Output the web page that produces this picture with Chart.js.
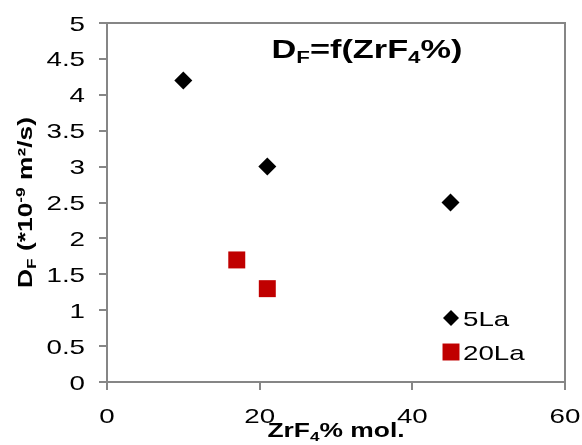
<!DOCTYPE html>
<html>
<head>
<meta charset="utf-8">
<script src="https://cdn.jsdelivr.net/npm/chart.js@4.4.1/dist/chart.umd.min.js"></script>
<style>
  body { margin: 0; background: #fff; }
  canvas { display: block; }
</style>
</head>
<body>
<canvas id="df-chart" width="582" height="445"></canvas>
<script>
// data
var seriesNames = ['5La', '20La'];
var x5La = [10, 21, 45];
var y5La = [4.2, 3.0, 2.5];
var x20La = [17, 21];
var y20La = [1.7, 1.3];
var xTicks = [0, 20, 40, 60];
var xTickLabels = ['0', '20', '40', '60'];
var yTicks = [0, 0.5, 1, 1.5, 2, 2.5, 3, 3.5, 4, 4.5, 5];
var yTickLabels = ['0', '0.5', '1', '1.5', '2', '2.5', '3', '3.5', '4', '4.5', '5'];

var AXIS_GREY = '#868686';
var STRETCH = 1.32; // text in the original is drawn wide

function toPoints(xs, ys) {
    return xs.map(function (x, i) { return { x: x, y: ys[i] }; });
}

// draws a run of text pieces, some may be sub / superscript
function drawRich(ctx, segs, x, y, o) {
    var font = function (s) {
        return (o.bold ? 'bold ' : '') + s + 'px "Liberation Sans", Arial, sans-serif';
    };
    ctx.save();
    ctx.translate(x, y);
    if (o.rot) ctx.rotate(o.rot);
    ctx.scale(STRETCH, 1);
    ctx.textAlign = 'left';
    ctx.textBaseline = 'alphabetic';
    ctx.fillStyle = '#000';
    var w = 0;
    segs.forEach(function (sg) {
        ctx.font = font(sg.sub || sg.sup ? o.size * 0.65 : o.size);
        sg.w = ctx.measureText(sg.t).width;
        w += sg.w;
    });
    var cx = o.align === 'center' ? -w / 2 : (o.align === 'right' ? -w : 0);
    segs.forEach(function (sg) {
        ctx.font = font(sg.sub || sg.sup ? o.size * 0.65 : o.size);
        var dy = sg.sub ? o.size * 0.2 : (sg.sup ? -o.size * 0.35 : 0);
        ctx.fillText(sg.t, cx, dy);
        cx += sg.w;
    });
    ctx.restore();
}

var textPlugin = {
    id: 'textPlugin',
    afterDraw: function (chart) {
        var ctx = chart.ctx;
        var a = chart.chartArea;
        var xs = chart.scales.x;
        var ys = chart.scales.y;

        // frame round the plot
        ctx.save();
        ctx.strokeStyle = AXIS_GREY;
        ctx.lineWidth = 2;
        ctx.strokeRect(a.left, a.top, a.right - a.left, a.bottom - a.top);
        ctx.restore();

        // tick labels
        xTicks.forEach(function (v, i) {
            drawRich(ctx, [{ t: xTickLabels[i] }], xs.getPixelForValue(v), a.bottom + 41, { size: 21, align: 'center' });
        });
        yTicks.forEach(function (v, i) {
            drawRich(ctx, [{ t: yTickLabels[i] }], a.left - 22, ys.getPixelForValue(v) + 7.5, { size: 21, align: 'right' });
        });

        // axis titles
        drawRich(ctx, [{ t: 'ZrF' }, { t: '4', sub: true }, { t: '% mol.' }],
            (a.left + a.right) / 2, a.bottom + 55, { size: 20, bold: true, align: 'center' });
        drawRich(ctx, [{ t: 'D' }, { t: 'F', sub: true }, { t: ' (*10' }, { t: '-9', sup: true }, { t: ' m²/s)' }],
            32, (a.top + a.bottom) / 2, { size: 20, bold: true, align: 'center', rot: -Math.PI / 2 });

        // chart title inside the plot
        drawRich(ctx, [{ t: 'D' }, { t: 'F', sub: true }, { t: '=f(ZrF' }, { t: '4', sub: true }, { t: '%)' }],
            367, 57.5, { size: 26, bold: true, align: 'center' });

        // legend, bottom right inside the plot
        chart.data.datasets.forEach(function (ds, i) {
            var ly = 318 + i * 34;
            ctx.save();
            ctx.fillStyle = ds.pointBackgroundColor;
            Chart.helpers.drawPoint(ctx, {
                pointStyle: ds.pointStyle,
                radius: ds.pointStyle === 'rect' ? 12 : 8,
                rotation: 0,
                borderWidth: 0
            }, 451, ly);
            ctx.restore();
            drawRich(ctx, [{ t: ds.label }], 463, ly + 8, { size: 21, align: 'left' });
        });
    }
};

var ctxDf = document.querySelector('#df-chart').getContext('2d');
var dfChart = new Chart(ctxDf, {
    type: 'scatter',
    data: {
        datasets: [{
            label: seriesNames[0],
            data: toPoints(x5La, y5La),
            pointStyle: 'rectRot',
            pointRadius: 9,
            pointHoverRadius: 9,
            pointBackgroundColor: '#000000',
            pointBorderWidth: 0,
            pointHoverBorderWidth: 0
        }, {
            label: seriesNames[1],
            data: toPoints(x20La, y20La),
            pointStyle: 'rect',
            pointRadius: 12,
            pointHoverRadius: 12,
            pointBackgroundColor: '#C00000',
            pointBorderWidth: 0,
            pointHoverBorderWidth: 0
        }]
    },
    options: {
        responsive: false,
        animation: false,
        layout: { padding: { top: 23, right: 17, bottom: 0, left: 0 } },
        plugins: {
            legend: { display: false },
            tooltip: { enabled: false },
            title: { display: false }
        },
        scales: {
            x: {
                type: 'linear',
                min: 0,
                max: 60,
                afterBuildTicks: function (s) { s.ticks = xTicks.map(function (v) { return { value: v }; }); },
                afterFit: function (s) { s.height = 63; },
                ticks: { display: false },
                border: { display: false },
                grid: { drawOnChartArea: false, drawTicks: true, tickLength: 8, color: AXIS_GREY, lineWidth: 2 }
            },
            y: {
                type: 'linear',
                min: 0,
                max: 5,
                afterBuildTicks: function (s) { s.ticks = yTicks.map(function (v) { return { value: v }; }); },
                afterFit: function (s) { s.width = 107; },
                ticks: { display: false },
                border: { display: false },
                grid: { drawOnChartArea: false, drawTicks: true, tickLength: 8, color: AXIS_GREY, lineWidth: 2 }
            }
        }
    },
    plugins: [textPlugin]
});
</script>
</body>
</html>
